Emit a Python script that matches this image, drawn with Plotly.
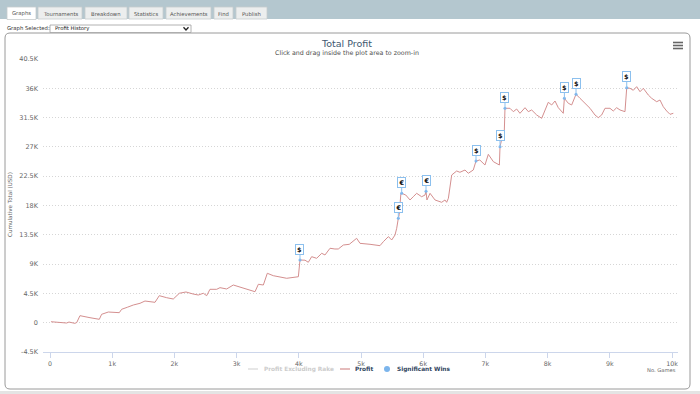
import plotly.graph_objects as go

# ---------------- data ----------------
games = [16, 134, 268, 305, 400, 430, 482, 643, 793, 830, 938, 1114, 1152, 1243, 1340, 1447,
         1527, 1688, 1757, 1876, 1982, 2080, 2186, 2300, 2385, 2465, 2519, 2572, 2680, 2733,
         2840, 2947, 3055, 3296, 3350, 3430, 3494, 3590, 3805, 3939, 3993, 4019, 4100, 4153,
         4207, 4287, 4368, 4421, 4502, 4580, 4635, 4716, 4812, 4930, 4984, 5145, 5252, 5305,
         5359, 5439, 5470, 5493, 5547, 5574, 5600, 5615, 5640, 5654, 5720, 5788, 5840, 5895,
         5975, 6029, 6045, 6060, 6110, 6190, 6297, 6350, 6377, 6405, 6458, 6538, 6590, 6672,
         6725, 6805, 6849, 6910, 6993, 7047, 7128, 7208, 7225, 7235, 7260, 7300, 7315, 7395,
         7449, 7502, 7556, 7637, 7690, 7744, 7825, 7905, 7958, 8011, 8066, 8119, 8172, 8252,
         8270, 8333, 8387, 8457, 8521, 8601, 8682, 8762, 8815, 8869, 8923, 9003, 9056, 9110,
         9164, 9244, 9272, 9325, 9378, 9432, 9486, 9539, 9619, 9674, 9754, 9807, 9860, 9915,
         9968, 10021]
profit = [150, 60, -50, 100, -100, 30, 1080, 770, 520, 1290, 1640, 1540, 2060, 2370, 2720, 2980,
          3330, 3130, 4150, 3840, 3640, 4520, 4720, 4410, 4250, 4520, 4150, 5130, 5130, 5380,
          5180, 5790, 5440, 4760, 5900, 5790, 7590, 7220, 6820, 6910, 7060, 9630, 9600, 9280,
          10140, 9890, 10660, 10400, 11430, 11320, 11320, 11930, 12040, 12960, 12190, 12040, 11930, 11830,
          12440, 13210, 12960, 12700, 13470, 14500, 16030, 16600, 19700, 19870, 19610, 18850, 19350, 19870,
          19350, 19610, 20200, 18850, 19870, 18850, 18490, 18850, 18490, 19110, 22680, 23300, 23100, 23450,
          22950, 23450, 24830, 24990, 24220, 25860, 24730, 24220, 24220, 27030, 28060, 28100, 32930, 32930,
          32410, 32820, 32160, 33020, 32410, 32670, 31900, 31390, 32670, 33850, 33440, 34050, 33020, 32160,
          34460, 33700, 33440, 35080, 34460, 33700, 32930, 31900, 31490, 31900, 32930, 32930, 32510, 33020,
          32670, 32410, 36090, 36000, 35700, 36250, 35480, 36000, 34970, 34460, 33940, 34200, 33170, 32510,
          32000, 32160]

win_games = [4019, 5600, 5654, 6045, 6849, 7235, 7315, 8270, 8457, 9272]
win_values = [9630, 16030, 19870, 20200, 24830, 27030, 32930, 34460, 35080, 36090]
win_currency = ["$", "€", "€", "€", "$", "$", "$", "$", "$", "$"]

x_tickvals = [0, 1000, 2000, 3000, 4000, 5000, 6000, 7000, 8000, 9000, 10000]
x_ticktext = ["0", "1k", "2k", "3k", "4k", "5k", "6k", "7k", "8k", "9k", "10k"]
y_tickvals = [-4500, 0, 4500, 9000, 13500, 18000, 22500, 27000, 31500, 36000, 40500]
y_ticktext = ["-4.5K", "0", "4.5K", "9K", "13.5K", "18K", "22.5K", "27K", "31.5K", "36K", "40.5K"]

legend_names = ["Profit Excluding Rake", "Profit", "Significant Wins"]
tabs = ["Graphs", "Tournaments", "Breakdown", "Statistics", "Achievements", "Find", "Publish"]

# ---------------- geometry helpers ----------------
W_FIG, H_FIG = 700, 394
PL, PR, PT, PB = 43, 678, 59, 352
PW, PH = PR - PL, PB - PT


def px(x):
    return (x - PL) / PW


def py(y):
    return (PB - y) / PH


FONT = "DejaVu Sans"
LINE_COLOR = "#d48f8f"
WIN_COLOR = "#7cb5ec"
fig = go.Figure()

fig.add_trace(go.Scatter(
    x=games, y=profit, mode="lines", name=legend_names[1],
    line=dict(color=LINE_COLOR, width=1), hoverinfo="x+y", showlegend=False,
))
fig.add_trace(go.Scatter(
    x=win_games, y=win_values, mode="markers", name=legend_names[2],
    marker=dict(color=WIN_COLOR, size=3), hoverinfo="x+y", showlegend=False,
))

shapes = []
annotations = []

# flags for significant wins
for g, v, c in zip(win_games, win_values, win_currency):
    annotations.append(dict(
        x=g, y=v, xref="x", yref="y", text=c, showarrow=True, arrowhead=0,
        arrowcolor="#8cc0ee", arrowwidth=1, ax=0, ay=-11,
        font=dict(family=FONT, size=6.5, color="#111111", weight="bold"),
        bgcolor="#ffffff", bordercolor="#8cc0ee", borderwidth=1, borderpad=1,
        width=5, height=7,
    ))

# compact legend (drawn like the reference's)
LEG_Y = 369
leg_font = dict(family=FONT, size=5.8, weight="bold")
shapes.append(dict(type="line", xref="paper", yref="paper", x0=px(248), x1=px(258),
                   y0=py(LEG_Y), y1=py(LEG_Y), line=dict(color="#d8d8d8", width=1.2)))
annotations.append(dict(x=px(262), y=py(LEG_Y), xref="paper", yref="paper", text=legend_names[0],
                        showarrow=False, xanchor="left", yanchor="middle",
                        font=dict(color="#cccccc", **leg_font)))
shapes.append(dict(type="line", xref="paper", yref="paper", x0=px(340), x1=px(350),
                   y0=py(LEG_Y), y1=py(LEG_Y), line=dict(color=LINE_COLOR, width=1.2)))
annotations.append(dict(x=px(353), y=py(LEG_Y), xref="paper", yref="paper", text=legend_names[1],
                        showarrow=False, xanchor="left", yanchor="middle",
                        font=dict(color="#2f4560", **leg_font)))
shapes.append(dict(type="circle", xref="paper", yref="paper", x0=px(384), x1=px(390),
                   y0=py(LEG_Y + 3), y1=py(LEG_Y - 3), fillcolor=WIN_COLOR, line=dict(width=0)))
annotations.append(dict(x=px(394.5), y=py(LEG_Y), xref="paper", yref="paper", text=legend_names[2],
                        showarrow=False, xanchor="left", yanchor="middle",
                        font=dict(color="#2f4560", **leg_font)))

# top band and tabs
shapes.append(dict(type="rect", xref="paper", yref="paper", x0=px(0), x1=px(700),
                   y0=py(19), y1=py(0), fillcolor="#b4c7cf", line=dict(width=0), layer="below"))
tab_x = [(7, 36), (38, 82), (85, 127), (129, 163), (166, 211), (214, 233), (236, 267)]
for i, (name, (a, b)) in enumerate(zip(tabs, tab_x)):
    fill = "#ffffff" if i == 0 else "#eceeee"
    shapes.append(dict(type="rect", xref="paper", yref="paper", x0=px(a), x1=px(b),
                       y0=py(19.5 if i == 0 else 19), y1=py(7), fillcolor=fill,
                       line=dict(color="#c6cbcd", width=0.8), layer="below"))
    annotations.append(dict(x=px((a + b) / 2), y=py(13.5), xref="paper", yref="paper",
                            text=name, showarrow=False, xanchor="center", yanchor="middle",
                            font=dict(family=FONT, size=5.3, color="#555555")))

# graph selector
annotations.append(dict(x=px(5), y=py(28.5), xref="paper", yref="paper", text="Graph Selected:",
                        showarrow=False, xanchor="left", yanchor="middle",
                        font=dict(family=FONT, size=5.3, color="#333333")))
shapes.append(dict(type="rect", xref="paper", yref="paper", x0=px(50), x1=px(191),
                   y0=py(32.5), y1=py(25), fillcolor="#ffffff",
                   line=dict(color="#a0a0a0", width=0.8)))
annotations.append(dict(x=px(53), y=py(28.7), xref="paper", yref="paper", text="Profit History",
                        showarrow=False, xanchor="left", yanchor="middle",
                        font=dict(family=FONT, size=5.3, color="#222222")))
shapes.append(dict(type="path", xref="paper", yref="paper",
                   path=f"M {px(183.5)},{py(27.3)} L {px(186)},{py(30)} L {px(188.5)},{py(27.3)}",
                   line=dict(color="#222222", width=1.3)))

# chart container with rounded corners
x0, y0, x1, y1, r = 5, 33, 690, 389, 5
path = (f"M {px(x0 + r)},{py(y0)} L {px(x1 - r)},{py(y0)} Q {px(x1)},{py(y0)} {px(x1)},{py(y0 + r)} "
        f"L {px(x1)},{py(y1 - r)} Q {px(x1)},{py(y1)} {px(x1 - r)},{py(y1)} "
        f"L {px(x0 + r)},{py(y1)} Q {px(x0)},{py(y1)} {px(x0)},{py(y1 - r)} "
        f"L {px(x0)},{py(y0 + r)} Q {px(x0)},{py(y0)} {px(x0 + r)},{py(y0)} Z")
shapes.append(dict(type="path", xref="paper", yref="paper", path=path,
                   line=dict(color="#9a9a9a", width=1), layer="below"))
shapes.append(dict(type="rect", xref="paper", yref="paper", x0=px(0), x1=px(700),
                   y0=py(394), y1=py(391), fillcolor="#e4e4e4", line=dict(width=0), layer="below"))

# hamburger menu
for yy in (42.5, 45.5, 48.5):
    shapes.append(dict(type="line", xref="paper", yref="paper", x0=px(673), x1=px(683),
                       y0=py(yy), y1=py(yy), line=dict(color="#666666", width=1.6)))

# subtitle, axis titles
annotations.append(dict(x=px(347), y=py(53), xref="paper", yref="paper",
                        text="Click and drag inside the plot area to zoom-in", showarrow=False,
                        xanchor="center", yanchor="middle",
                        font=dict(family=FONT, size=6.3, color="#4d4d4d")))
annotations.append(dict(x=px(10), y=py(205), xref="paper", yref="paper",
                        text="Cumulative Total (USD)", showarrow=False, textangle=-90,
                        xanchor="center", yanchor="middle",
                        font=dict(family=FONT, size=5.6, color="#666666")))
annotations.append(dict(x=px(678), y=py(370), xref="paper", yref="paper", text="No. Games",
                        showarrow=False, xanchor="right", yanchor="middle",
                        font=dict(family=FONT, size=5.2, color="#666666")))

fig.update_layout(
    width=W_FIG, height=H_FIG,
    margin=dict(l=PL, r=W_FIG - PR, t=PT, b=H_FIG - PB, autoexpand=False),
    paper_bgcolor="#ffffff", plot_bgcolor="#ffffff",
    title=dict(text="Total Profit", x=px(347), xref="paper", xanchor="center",
               y=1 - 43.5 / H_FIG, yref="container", yanchor="middle",
               font=dict(family=FONT, size=9.5, color="#3e576f")),
    font=dict(family=FONT),
    showlegend=False,
    xaxis=dict(range=[-112.5, 10096.5], tickvals=x_tickvals, ticktext=x_ticktext,
               showgrid=False, zeroline=False, showline=True, linecolor="#ccd6eb", linewidth=1,
               ticks="outside", ticklen=5, tickcolor="#ccd6eb",
               tickfont=dict(family=FONT, size=6.3, color="#666666")),
    yaxis=dict(range=[-4500, 40500], tickvals=y_tickvals, ticktext=y_ticktext,
               showgrid=True, gridcolor="#d6d6d6", griddash="1px,2px", gridwidth=1,
               zeroline=False, showline=False, ticks="", ticklabelstandoff=4,
               tickfont=dict(family=FONT, size=6.5, color="#666666")),
    shapes=shapes,
    annotations=annotations,
    hovermode="closest",
)

fig.write_html("out.html", config={"displayModeBar": False},
               post_script="document.body.style.margin='0';")
